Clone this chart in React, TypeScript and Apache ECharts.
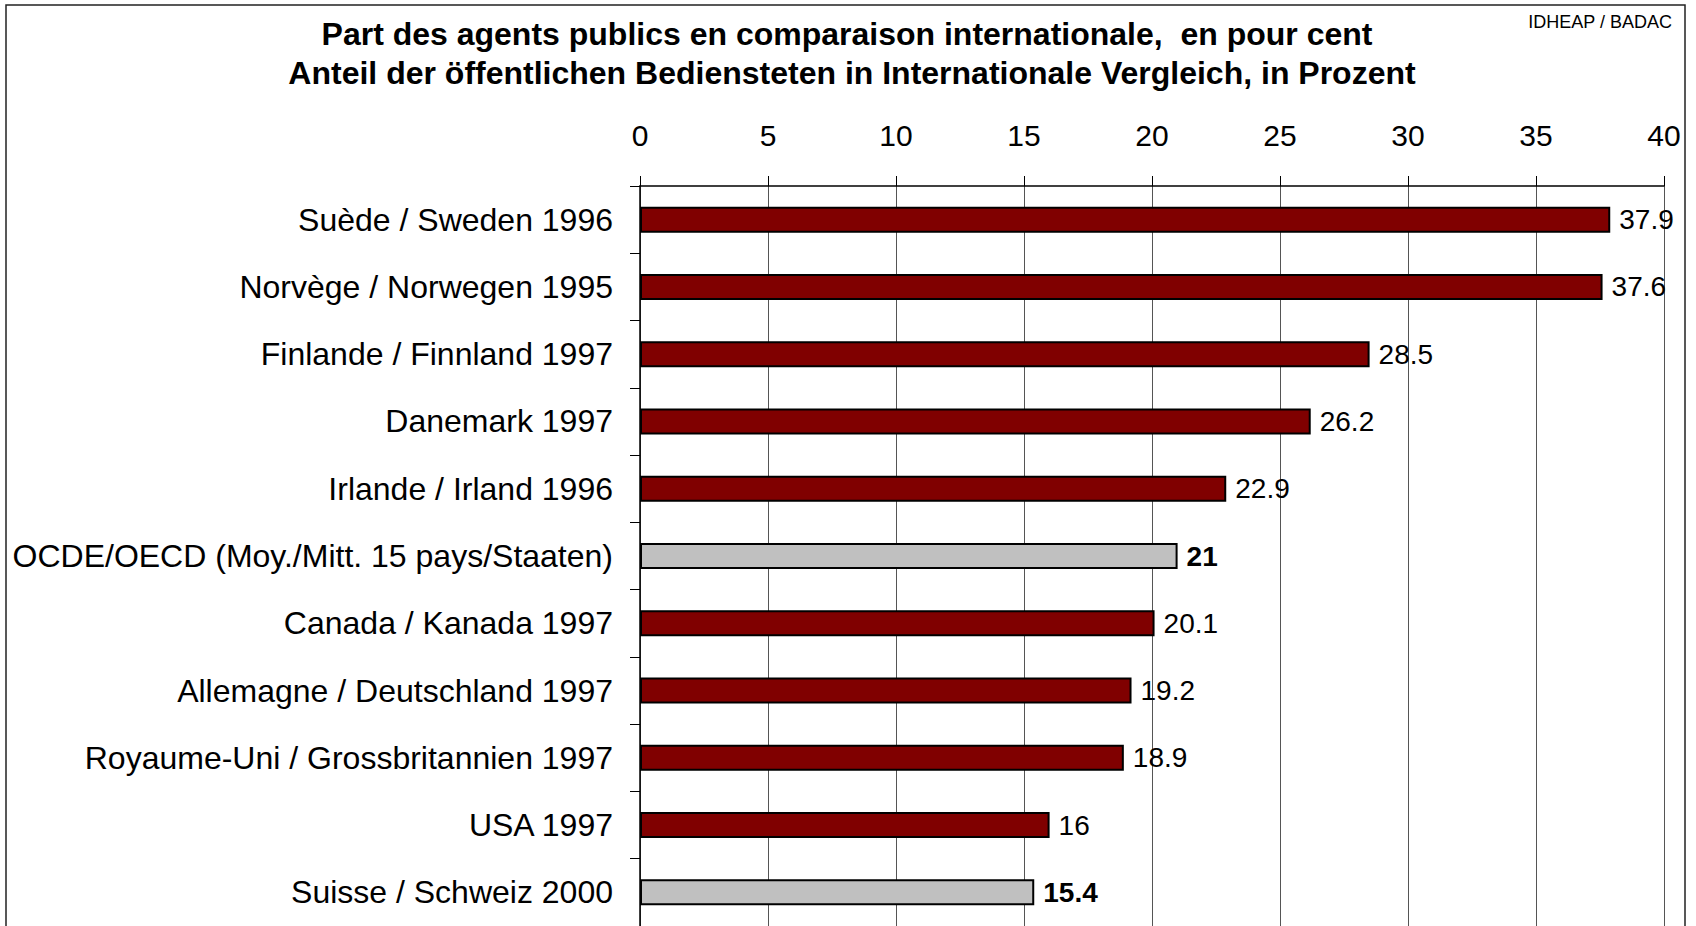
import React, { useEffect, useRef } from "react";
import * as echarts from "echarts";

const categories = [
  "Suède / Sweden 1996",
  "Norvège / Norwegen 1995",
  "Finlande / Finnland 1997",
  "Danemark 1997",
  "Irlande / Irland 1996",
  "OCDE/OECD (Moy./Mitt. 15 pays/Staaten)",
  "Canada / Kanada 1997",
  "Allemagne / Deutschland 1997",
  "Royaume-Uni / Grossbritannien 1997",
  "USA 1997",
  "Suisse / Schweiz 2000",
];
const values = [37.9, 37.6, 28.5, 26.2, 22.9, 21, 20.1, 19.2, 18.9, 16, 15.4];
const highlighted = [false, false, false, false, false, true, false, false, false, false, true];
const xTicks = { min: 0, max: 40, interval: 5 };
const titleLines = [
  "Part des agents publics en comparaison internationale,  en pour cent",
  "Anteil der öffentlichen Bediensteten in Internationale Vergleich, in Prozent",
];
const sourceText = "IDHEAP / BADAC";

const FONT = "'Liberation Sans', Arial, sans-serif";

export default function App() {
  const ref = useRef<HTMLDivElement>(null);
  useEffect(() => {
    document.body.style.margin = "0";
    const chart = echarts.init(ref.current!, null, { renderer: "svg" });
    const data = values.map((v, i) => ({
      value: v,
      itemStyle: { color: highlighted[i] ? "#C0C0C0" : "#800000" },
      label: { fontWeight: highlighted[i] ? "bold" : "normal" },
    }));
    chart.setOption({
      animation: false,
      backgroundColor: "#ffffff",
      textStyle: { fontFamily: FONT },
      graphic: [
        {
          type: "rect",
          shape: { x: 6, y: 5, width: 1679, height: 940 },
          style: { fill: "none", stroke: "#222", lineWidth: 1.5 },
          silent: true,
        },
        {
          type: "text",
          x: 847,
          y: 34,
          style: {
            text: titleLines[0],
            font: `bold 32px ${FONT}`,
            fill: "#000",
            align: "center",
            verticalAlign: "middle",
          },
        },
        {
          type: "text",
          x: 852,
          y: 73,
          style: {
            text: titleLines[1],
            font: `bold 32px ${FONT}`,
            fill: "#000",
            align: "center",
            verticalAlign: "middle",
          },
        },
        {
          type: "text",
          x: 1672,
          y: 22,
          style: {
            text: sourceText,
            font: `18px ${FONT}`,
            fill: "#000",
            align: "right",
            verticalAlign: "middle",
          },
        },
      ],
      grid: { left: 640, right: 32, top: 186, height: 742, containLabel: false },
      xAxis: {
        type: "value",
        position: "top",
        min: xTicks.min,
        max: xTicks.max,
        interval: xTicks.interval,
        axisLine: { show: true, lineStyle: { color: "#000", width: 1.5 } },
        axisTick: { show: true, inside: false, length: 10, lineStyle: { color: "#000" } },
        axisLabel: { fontSize: 30, color: "#000", margin: 36, fontFamily: FONT },
        splitLine: { show: true, lineStyle: { color: "#555", width: 1 } },
      },
      yAxis: {
        type: "category",
        inverse: true,
        data: categories,
        axisLine: { show: true, lineStyle: { color: "#000", width: 1.5 } },
        axisTick: { show: true, length: 10, lineStyle: { color: "#000" } },
        axisLabel: { fontSize: 32, color: "#000", margin: 27, fontFamily: FONT },
      },
      series: [
        {
          type: "bar",
          data,
          barWidth: 26,
          itemStyle: { borderColor: "#000", borderWidth: 2 },
          label: {
            show: true,
            position: "right",
            distance: 9,
            fontSize: 28,
            color: "#000",
            fontFamily: FONT,
          },
        },
      ],
    });
    return () => chart.dispose();
  }, []);
  return <div ref={ref} style={{ width: 1696, height: 926 }} />;
}
